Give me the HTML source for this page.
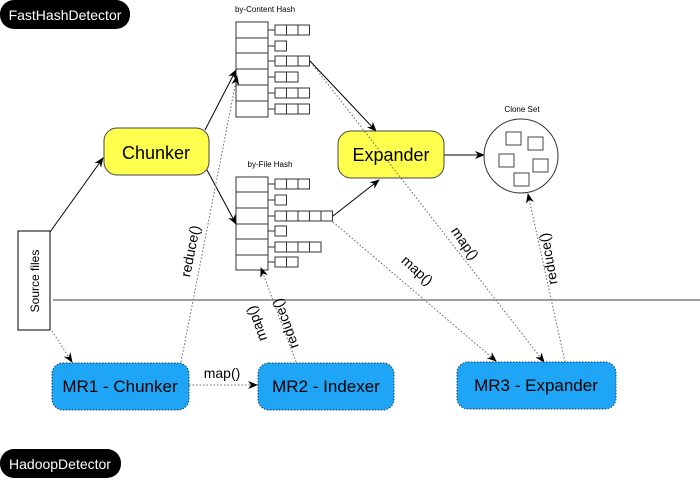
<!DOCTYPE html>
<html><head><meta charset="utf-8"><style>
html,body{margin:0;padding:0;background:#fff;}
svg{display:block;font-family:"Liberation Sans",sans-serif;}
</style></head><body>
<svg width="700" height="480" viewBox="0 0 700 480" xmlns="http://www.w3.org/2000/svg">
<defs>
<marker id="a" markerWidth="10" markerHeight="8" refX="9" refY="4" orient="auto" markerUnits="userSpaceOnUse">
<path d="M0,0 L10,4 L0,8 L3,4 Z" fill="#000"/></marker>
</defs>
<rect x="0" y="0" width="130" height="29" rx="14" fill="#000"/>
<text x="65" y="20" font-size="14" fill="#fff" text-anchor="middle">FastHashDetector</text>
<rect x="0" y="449" width="121" height="29" rx="14" fill="#000"/>
<text x="60" y="469" font-size="14" fill="#fff" text-anchor="middle">HadoopDetector</text>

<line x1="53" y1="300" x2="700" y2="300" stroke="#666" stroke-width="1.2"/>

<!-- content hash -->
<text x="265" y="12" font-size="8" text-anchor="middle">by-Content Hash</text>
<g stroke="#333" fill="#fff" stroke-width="1">
<rect x="236" y="22" width="32" height="95"/>
<line x1="236" y1="38" x2="268" y2="38"/><line x1="236" y1="53" x2="268" y2="53"/><line x1="236" y1="69" x2="268" y2="69"/><line x1="236" y1="85" x2="268" y2="85"/><line x1="236" y1="101" x2="268" y2="101"/>
</g>
<g stroke="#333" fill="#fff" stroke-width="1">
<line x1="268" y1="30" x2="275" y2="30"/><rect x="275" y="25" width="11.5" height="10"/><rect x="286.5" y="25" width="11.5" height="10"/><rect x="298" y="25" width="11.5" height="10"/>
<line x1="268" y1="46" x2="275" y2="46"/><rect x="275" y="41" width="11.5" height="10"/>
<line x1="268" y1="61" x2="275" y2="61"/><rect x="275" y="56" width="11.5" height="10"/><rect x="286.5" y="56" width="11.5" height="10"/><rect x="298" y="56" width="11.5" height="10"/>
<line x1="268" y1="77" x2="275" y2="77"/><rect x="275" y="72" width="11.5" height="10"/><rect x="286.5" y="72" width="11.5" height="10"/>
<line x1="268" y1="93" x2="275" y2="93"/><rect x="275" y="88" width="11.5" height="10"/><rect x="286.5" y="88" width="11.5" height="10"/><rect x="298" y="88" width="11.5" height="10"/>
<line x1="268" y1="109" x2="275" y2="109"/><rect x="275" y="104" width="11.5" height="10"/><rect x="286.5" y="104" width="11.5" height="10"/><rect x="298" y="104" width="11.5" height="10"/>
</g>

<!-- file hash -->
<text x="270" y="167" font-size="8" text-anchor="middle">by-File Hash</text>
<g stroke="#333" fill="#fff" stroke-width="1">
<rect x="236" y="177" width="32" height="93"/>
<line x1="236" y1="192" x2="268" y2="192"/><line x1="236" y1="208" x2="268" y2="208"/><line x1="236" y1="224" x2="268" y2="224"/><line x1="236" y1="239" x2="268" y2="239"/><line x1="236" y1="255" x2="268" y2="255"/>
</g>
<g stroke="#333" fill="#fff" stroke-width="1">
<line x1="268" y1="184" x2="275" y2="184"/><rect x="275" y="179" width="11.5" height="10"/><rect x="286.5" y="179" width="11.5" height="10"/><rect x="298" y="179" width="11.5" height="10"/>
<line x1="268" y1="200" x2="275" y2="200"/><rect x="275" y="195" width="11.5" height="10"/>
<line x1="268" y1="216" x2="275" y2="216"/><rect x="275" y="211" width="11.5" height="10"/><rect x="286.5" y="211" width="11.5" height="10"/><rect x="298" y="211" width="11.5" height="10"/><rect x="309.5" y="211" width="11.5" height="10"/><rect x="321" y="211" width="11.5" height="10"/>
<line x1="268" y1="231" x2="275" y2="231"/><rect x="275" y="226" width="11.5" height="10"/>
<line x1="268" y1="247" x2="275" y2="247"/><rect x="275" y="242" width="11.5" height="10"/><rect x="286.5" y="242" width="11.5" height="10"/><rect x="298" y="242" width="11.5" height="10"/><rect x="309.5" y="242" width="11.5" height="10"/>
<line x1="268" y1="262" x2="275" y2="262"/><rect x="275" y="257" width="11.5" height="10"/><rect x="286.5" y="257" width="11.5" height="10"/>
</g>

<!-- solid connectors -->
<g stroke="#000" stroke-width="1" fill="none">
<line x1="50" y1="232" x2="103" y2="158" marker-end="url(#a)"/>
<line x1="205" y1="130" x2="236" y2="70" marker-end="url(#a)"/>
<line x1="207" y1="170" x2="236" y2="224" marker-end="url(#a)"/>
<line x1="310" y1="61" x2="376" y2="131" marker-end="url(#a)"/>
<line x1="333" y1="216" x2="379" y2="180" marker-end="url(#a)"/>
<line x1="444" y1="155" x2="484" y2="155" marker-end="url(#a)"/>
</g>

<!-- source files -->
<rect x="18" y="231" width="32" height="99" fill="#fff" stroke="#000"/>
<text transform="translate(39,281) rotate(-90)" font-size="12" text-anchor="middle">Source files</text>

<!-- yellow boxes -->
<rect x="104" y="128" width="105" height="47" rx="13" fill="#ffff4d" stroke="#444"/>
<text x="156" y="159" font-size="18" text-anchor="middle">Chunker</text>
<rect x="338" y="131" width="106" height="47" rx="13" fill="#ffff4d" stroke="#444"/>
<text x="391" y="161" font-size="18" text-anchor="middle">Expander</text>

<!-- clone set -->
<text x="522" y="112" font-size="8" text-anchor="middle">Clone Set</text>
<circle cx="521" cy="156" r="37" fill="#fff" stroke="#333"/>
<g fill="#fff" stroke="#444">
<rect x="506" y="132" width="15" height="13"/><rect x="528" y="137" width="15" height="13"/>
<rect x="499" y="154" width="15" height="13"/><rect x="533" y="159" width="15" height="13"/>
<rect x="514" y="173" width="15" height="13"/>
</g>

<!-- dotted connectors -->
<g stroke="#666" stroke-width="1" stroke-dasharray="1.5,2" fill="none">
<line x1="52" y1="331" x2="72" y2="362" marker-end="url(#a)"/>
<line x1="181" y1="362" x2="237" y2="76" marker-end="url(#a)"/>
<line x1="189" y1="385" x2="257" y2="385" marker-end="url(#a)"/>
<line x1="296" y1="362" x2="261" y2="268" marker-end="url(#a)"/>
<line x1="313" y1="65" x2="544" y2="362" marker-end="url(#a)"/>
<line x1="333" y1="222" x2="496" y2="361" marker-end="url(#a)"/>
<line x1="565" y1="362" x2="528" y2="194" marker-end="url(#a)"/>
</g>

<!-- MR boxes -->
<g fill="#1ea5f5" stroke="#1a3a66" stroke-width="1" stroke-dasharray="1.5,1.5">
<rect x="52" y="363" width="137" height="47" rx="11"/>
<rect x="258" y="363" width="136" height="47" rx="11"/>
<rect x="457" y="362" width="159" height="47" rx="11"/>
</g>
<text x="120" y="392" font-size="17" text-anchor="middle">MR1 - Chunker</text>
<text x="326" y="392" font-size="17" text-anchor="middle">MR2 - Indexer</text>
<text x="536" y="391" font-size="17" text-anchor="middle">MR3 - Expander</text>

<!-- labels -->
<g font-size="14">
<text x="222" y="378" text-anchor="middle">map()</text>
<text transform="translate(195,252) rotate(-79)" text-anchor="middle">reduce()</text>
<text transform="translate(261,322) rotate(-110)" text-anchor="middle">map()</text>
<text transform="translate(290,322) rotate(-110)" text-anchor="middle">reduce()</text>
<text transform="translate(461,246) rotate(55)" text-anchor="middle">map()</text>
<text transform="translate(414,274) rotate(42)" text-anchor="middle">map()</text>
<text transform="translate(553,258) rotate(-100)" text-anchor="middle">reduce()</text>
</g>
</svg>
</body></html>
